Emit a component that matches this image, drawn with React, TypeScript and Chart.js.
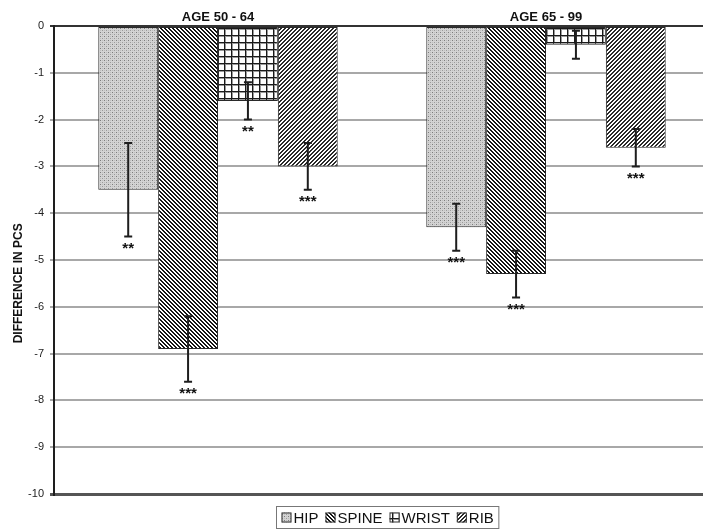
import React, { useEffect, useRef } from "react";
import { Chart, registerables } from "chart.js";

Chart.register(...registerables);

// ---- data ----
const groups = ["AGE 50 - 64", "AGE 65 - 99"];
const seriesNames = ["HIP", "SPINE", "WRIST", "RIB"];
const hip = [-3.5, -4.3];
const spine = [-6.9, -5.3];
const wrist = [-1.6, -0.4];
const rib = [-3.0, -2.6];
const hipErr = [1.0, 0.5];
const spineErr = [0.7, 0.5];
const wristErr = [0.4, 0.3];
const ribErr = [0.5, 0.4];
const hipSig = ["**", "***"];
const spineSig = ["***", "***"];
const wristSig = ["**", ""];
const ribSig = ["***", "***"];
const yMin = -10;
const yMax = 0;
const yStep = 1;
const yTitle = "DIFFERENCE IN PCS";

const FONT = '"Liberation Sans", Arial, Helvetica, sans-serif';

function makePattern(size: number, paint: (g: CanvasRenderingContext2D) => void) {
  const c = document.createElement("canvas");
  c.width = size;
  c.height = size;
  const g = c.getContext("2d")!;
  paint(g);
  const p = g.createPattern(c, "repeat");
  return p as CanvasPattern;
}

function px(g: CanvasRenderingContext2D, x: number, y: number, col: string) {
  g.fillStyle = col;
  g.fillRect(x, y, 1, 1);
}

function hipPattern() {
  return makePattern(4, (g) => {
    g.fillStyle = "#d3d3d3";
    g.fillRect(0, 0, 4, 4);
    px(g, 0, 0, "#7c7c7c");
    px(g, 2, 2, "#9a9a9a");
    px(g, 2, 0, "#bcbcbc");
    px(g, 0, 2, "#bcbcbc");
  });
}

function spinePattern() {
  return makePattern(4, (g) => {
    g.fillStyle = "#ffffff";
    g.fillRect(0, 0, 4, 4);
    for (let y = 0; y < 4; y++)
      for (let x = 0; x < 4; x++) if ((x - y + 8) % 4 < 2) px(g, x, y, "#151515");
  });
}

function wristPattern() {
  return makePattern(7, (g) => {
    g.fillStyle = "#ffffff";
    g.fillRect(0, 0, 7, 7);
    g.fillStyle = "#9a9a9a";
    g.fillRect(1, 0, 1, 7);
    g.fillRect(0, 1, 7, 1);
    g.fillStyle = "#1a1a1a";
    g.fillRect(0, 0, 1, 7);
    g.fillRect(0, 0, 7, 1);
  });
}

function ribPattern() {
  return makePattern(4, (g) => {
    g.fillStyle = "#ffffff";
    g.fillRect(0, 0, 4, 4);
    for (let y = 0; y < 4; y++)
      for (let x = 0; x < 4; x++) if ((x + y) % 4 < 2) px(g, x, y, "#2a2a2a");
  });
}

const errorBarPlugin = {
  id: "errorBars",
  afterDatasetsDraw(chart: any) {
    const ctx = chart.ctx;
    const yScale = chart.scales.y;
    ctx.save();
    chart.data.datasets.forEach((ds: any, i: number) => {
      const meta = chart.getDatasetMeta(i);
      meta.data.forEach((el: any, j: number) => {
        const v = ds.data[j];
        const e = ds.errors[j];
        const x = el.x;
        const yTop = yScale.getPixelForValue(v + e);
        const yBot = yScale.getPixelForValue(v - e);
        ctx.strokeStyle = "#1e1e1e";
        ctx.lineWidth = 2;
        ctx.beginPath();
        ctx.moveTo(x, yTop);
        ctx.lineTo(x, yBot);
        ctx.moveTo(x - 4, yTop);
        ctx.lineTo(x + 4, yTop);
        ctx.moveTo(x - 4, yBot);
        ctx.lineTo(x + 4, yBot);
        ctx.stroke();
        const s = ds.sig[j];
        if (s) {
          ctx.fillStyle = "#111";
          ctx.font = "bold 15px " + FONT;
          ctx.textAlign = "center";
          ctx.textBaseline = "top";
          ctx.fillText(s, x, yBot + 5);
        }
      });
    });
    ctx.restore();
  },
};

const boxLegendPlugin = {
  id: "boxLegend",
  afterDraw(chart: any) {
    const ctx = chart.ctx;
    const area = chart.chartArea;
    ctx.save();
    ctx.font = "15px " + FONT;
    const box = 10;
    const gap = 2;
    const spacing = 7;
    const pad = 5;
    const items = chart.data.datasets.map((ds: any) => ({
      label: ds.label,
      fill: ds.backgroundColor,
      w: ctx.measureText(ds.label).width,
    }));
    const total =
      items.reduce((s: number, it: any) => s + box + gap + it.w, 0) +
      spacing * (items.length - 1) +
      pad * 2;
    const cx = (area.left + area.right) / 2 + 5;
    const left = Math.round(cx - total / 2) + 0.5;
    const top = area.bottom + 12.5;
    const h = 22;
    ctx.strokeStyle = "#777";
    ctx.lineWidth = 1;
    ctx.strokeRect(left, top, total, h);
    let x = left + pad;
    const midY = top + h / 2;
    items.forEach((it: any) => {
      ctx.fillStyle = it.fill;
      ctx.fillRect(x, midY - box / 2, box, box);
      ctx.strokeStyle = "#333";
      ctx.strokeRect(x + 0.5, midY - box / 2 + 0.5, box - 1, box - 1);
      ctx.fillStyle = "#111";
      ctx.textAlign = "left";
      ctx.textBaseline = "middle";
      ctx.fillText(it.label, x + box + gap, midY + 1);
      x += box + gap + it.w + spacing;
    });
    ctx.restore();
  },
};

export default function App() {
  const ref = useRef<HTMLCanvasElement | null>(null);

  useEffect(() => {
    if (!ref.current) return;
    const patterns = [hipPattern(), spinePattern(), wristPattern(), ribPattern()];
    const values = [hip, spine, wrist, rib];
    const errs = [hipErr, spineErr, wristErr, ribErr];
    const sigs = [hipSig, spineSig, wristSig, ribSig];
    const chart = new Chart(ref.current, {
      type: "bar",
      data: {
        labels: groups,
        datasets: seriesNames.map((name, i) => ({
          label: name,
          data: values[i],
          errors: errs[i],
          sig: sigs[i],
          backgroundColor: patterns[i],
          borderColor: "#2a2a2a",
          borderWidth: 1,
          borderSkipped: false,
          categoryPercentage: 0.73,
          barPercentage: 1.0,
        })) as any,
      },
      options: {
        responsive: false,
        animation: false,
        events: [],
        layout: { padding: { left: 0, right: 2, top: 0, bottom: 35 } },
        plugins: {
          legend: { display: false },
          tooltip: { enabled: false },
          title: { display: false },
        },
        scales: {
          x: {
            position: "top",
            grid: { display: false, drawTicks: false },
            border: { display: true, color: "#333", width: 2 },
            ticks: {
              color: "#111",
              font: { family: FONT, size: 13, weight: "bold" },
              padding: 1,
              maxRotation: 0,
            },
            afterFit: (s: any) => {
              s.height = 26;
            },
          },
          y: {
            min: yMin,
            max: yMax,
            ticks: {
              stepSize: yStep,
              color: "#222",
              font: { family: FONT, size: 11 },
              padding: 6,
            },
            grid: {
              color: (c: any) =>
                c.tick && c.tick.value === yMin
                  ? "#555"
                  : c.tick && c.tick.value === yMax
                  ? "#333"
                  : "#a8a8a8",
              lineWidth: (c: any) =>
                c.tick && c.tick.value === yMin ? 3 : 2,
              tickLength: 4,
            },
            border: { display: true, color: "#1e1e1e", width: 2 },
            title: {
              display: true,
              text: yTitle + "              ",
              color: "#111",
              font: { family: FONT, size: 12, weight: "bold" },
              padding: { top: 11, bottom: 0 },
            },
            afterFit: (s: any) => {
              s.width = 54;
            },
          },
        },
      },
      plugins: [errorBarPlugin, boxLegendPlugin],
    });
    return () => chart.destroy();
  }, []);

  return (
    <div
      style={{
        position: "absolute",
        left: 0,
        top: 0,
        width: 703,
        height: 529,
        overflow: "hidden",
        background: "#fff",
      }}
    >
      <canvas ref={ref} width={712} height={529} style={{ display: "block" }} />
    </div>
  );
}
